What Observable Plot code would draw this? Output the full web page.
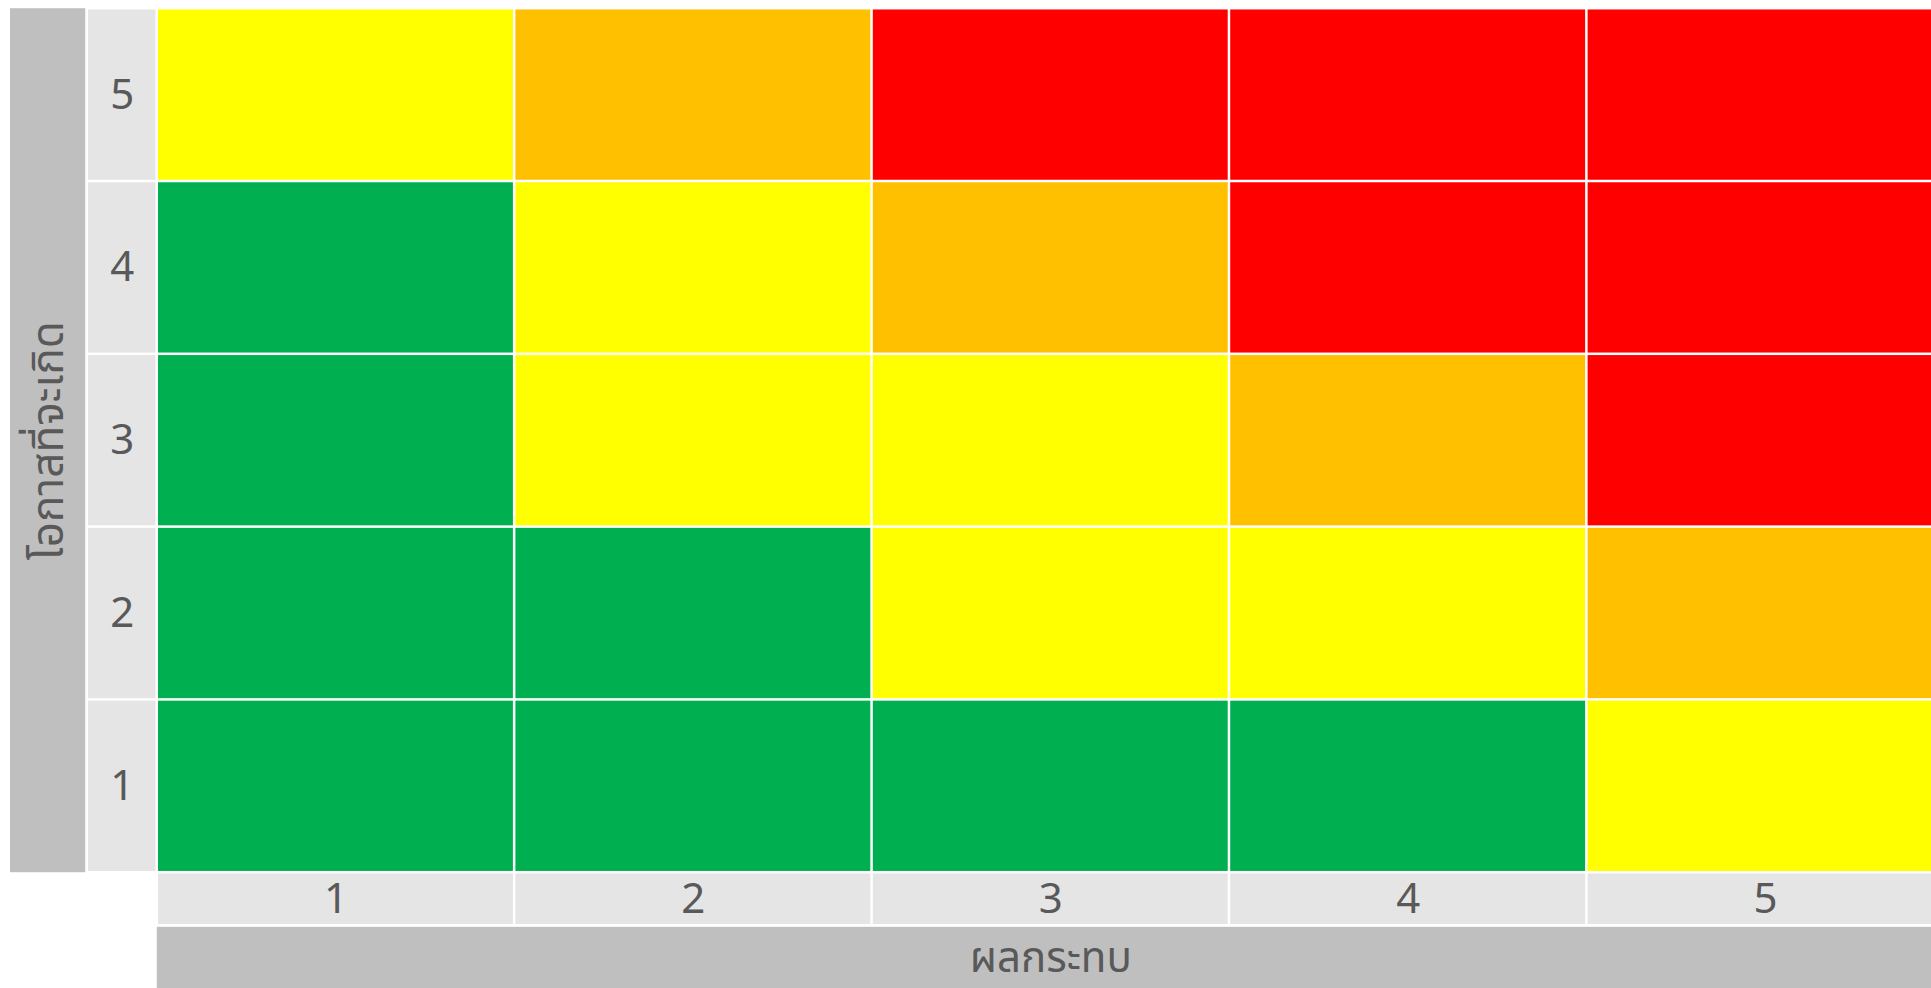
<!DOCTYPE html>
<html>
<head>
<meta charset="utf-8">
<script src="https://cdn.jsdelivr.net/npm/d3@7"></script>
<script src="https://cdn.jsdelivr.net/npm/@observablehq/plot@0.6"></script>
<style>
  html, body { margin: 0; padding: 0; background: #ffffff; overflow: hidden; }
  #chart svg { overflow: hidden; display: block; }
</style>
</head>
<body>
<div id="chart"></div>
<script>
// ---- Data ----
const impact = [1, 2, 3, 4, 5];            // ผลกระทบ (x)
const likelihood = [1, 2, 3, 4, 5];        // โอกาสที่จะเกิด (y)
// risk level per likelihood row (bottom 1 .. top 5), columns = impact 1..5
const row1 = ["low", "low", "low", "low", "medium"];
const row2 = ["low", "low", "medium", "medium", "high"];
const row3 = ["low", "medium", "medium", "high", "extreme"];
const row4 = ["low", "medium", "high", "extreme", "extreme"];
const row5 = ["medium", "high", "extreme", "extreme", "extreme"];
const levels = ["low", "medium", "high", "extreme"];
const levelColors = ["#00B050", "#FFFF00", "#FFC000", "#FF0000"];
const xTitle = "ผลกระทบ";
const yTitle = "โอกาสที่จะเกิด";

// ---- Build table ----
const rows = [row1, row2, row3, row4, row5];
const cells = [];
likelihood.forEach((l, i) => impact.forEach((m, j) => cells.push({impact: m, likelihood: l, level: rows[i][j]})));

// ---- Layout (in scale units) ----
const xDomain = [0.0614, 5.4643];
const yDomain = [-0.1701, 5.5475];
const yTickBand = [0.3041, 0.5];     // column of y tick labels
const yTitleBand = [0.0894, 0.3041]; // column of y title
const xTickBand = [0.1927, 0.5];     // row of x tick labels
const xTitleY = 0.004;
const ink = "#595959";
const font = "'Noto Sans', 'Noto Sans Thai', 'Open Sans', sans-serif";

const plot = Plot.plot({
  width: 1931,
  height: 988,
  margin: 0,
  style: {background: "#ffffff", fontFamily: font},
  x: {domain: xDomain, axis: null},
  y: {domain: yDomain, axis: null},
  color: {domain: levels, range: levelColors},
  marks: [
    // y title band
    Plot.rect([0], {x1: yTitleBand[0], x2: yTitleBand[1], y1: 0.5, y2: 5.5, fill: "#BFBFBF", insetRight: 1.5}),
    // y tick bands
    Plot.rect(likelihood, {x1: yTickBand[0], x2: yTickBand[1], y1: d => d - 0.5, y2: d => d + 0.5, fill: "#E5E5E5", inset: 1.25}),
    // x tick bands
    Plot.rect(impact, {x1: d => d - 0.5, x2: d => d + 0.5, y1: xTickBand[0], y2: xTickBand[1], fill: "#E5E5E5", inset: 1.25}),
    // x title band
    Plot.rect([0], {x1: 0.5, x2: 5.6, y1: yDomain[0] - 0.1, y2: xTickBand[0], fill: "#BFBFBF", insetTop: 1.5}),
    // cells
    Plot.rect(cells, {x1: d => d.impact - 0.5, x2: d => d.impact + 0.5, y1: d => d.likelihood - 0.5, y2: d => d.likelihood + 0.5, fill: "level", inset: 1.25}),
    // tick labels
    Plot.text(likelihood, {x: (yTickBand[0] + yTickBand[1]) / 2, y: d => d, text: d => String(d), fill: ink, fontSize: 42}),
    Plot.text(impact, {x: d => d, y: (xTickBand[0] + xTickBand[1]) / 2, text: d => String(d), fill: ink, fontSize: 42}),
    // titles
    Plot.text([xTitle], {x: 3, y: xTitleY, text: d => d, fill: ink, fontSize: 42}),
    Plot.text([yTitle], {x: (yTitleBand[0] + yTitleBand[1]) / 2, y: 3, text: d => d, fill: ink, fontSize: 44, rotate: -90})
  ]
});
document.getElementById("chart").appendChild(plot);
</script>
</body>
</html>
